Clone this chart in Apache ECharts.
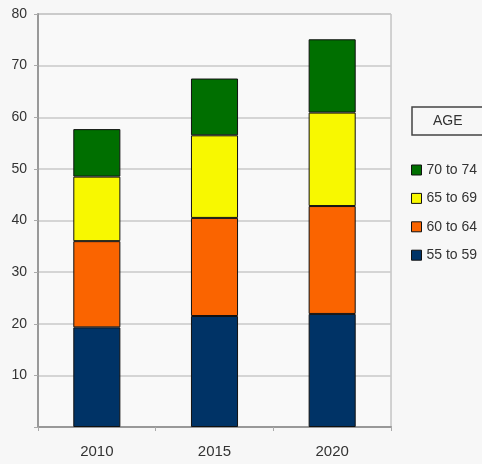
<!DOCTYPE html>
<html>
<head>
<meta charset="utf-8">
<script src="https://cdn.jsdelivr.net/npm/echarts@6/dist/echarts.min.js"></script>
<style>
html,body{margin:0;padding:0;background:#f7f7f7;}
#chart{width:482px;height:464px;}
</style>
</head>
<body>
<div id="chart"></div>
<script>
var categories = ['2010', '2015', '2020'];
var age55to59 = [19.3, 21.5, 21.9];
var age60to64 = [16.7, 19.0, 20.9];
var age65to69 = [12.5, 16.0, 18.1];
var age70to74 = [9.2, 11.0, 14.2];
var yTicks = [0, 10, 20, 30, 40, 50, 60, 70, 80];

var chart = echarts.init(document.getElementById('chart'), null, {renderer: 'canvas'});
var font = 'Liberation Sans, Arial, sans-serif';
function mk(name, data, color) {
  return {
    name: name, type: 'bar', stack: 'age', data: data, barWidth: '40%',
    itemStyle: {color: color, borderColor: '#111', borderWidth: 1},
    emphasis: {disabled: true}
  };
}
chart.setOption({
  backgroundColor: '#f7f7f7',
  animation: false,
  title: {
    text: 'AGE', left: 412, top: 107,
    padding: [7, 26, 7, 21],
    borderColor: '#444', borderWidth: 1.5,
    textStyle: {fontFamily: font, fontSize: 14, fontWeight: 'normal', color: '#333'}
  },
  legend: {
    orient: 'vertical', left: 411, top: 163, padding: 0,
    icon: 'rect',
    itemWidth: 10, itemHeight: 10, itemGap: 14.4,
    data: ['70 to 74', '65 to 69', '60 to 64', '55 to 59'],
    itemStyle: {borderColor: '#111', borderWidth: 1},
    textStyle: {fontFamily: font, fontSize: 14, color: '#333'}
  },
  grid: {left: 38, right: 91, top: 14, bottom: 37, show: true, borderColor: '#aaa', borderWidth: 1, backgroundColor: '#f9f9f9'},
  xAxis: {
    type: 'category', data: categories,
    axisLine: {lineStyle: {color: '#999', width: 2}},
    axisTick: {show: true, length: 4, lineStyle: {color: '#aaa'}},
    axisLabel: {fontFamily: font, fontSize: 15, color: '#333', margin: 17}
  },
  yAxis: {
    type: 'value', min: yTicks[0], max: yTicks[yTicks.length - 1], interval: 10,
    axisLine: {show: true, lineStyle: {color: '#999', width: 2}},
    axisTick: {show: true, length: 4, lineStyle: {color: '#aaa'}},
    splitLine: {lineStyle: {color: '#c8c8c8', width: 1.5}},
    axisLabel: {fontFamily: font, fontSize: 14, color: '#333', margin: 11,
      formatter: function (v) { return v === 0 ? '' : String(v); }}
  },
  series: [
    mk('55 to 59', age55to59, '#003366'),
    mk('60 to 64', age60to64, '#fa6400'),
    mk('65 to 69', age65to69, '#f8f800'),
    mk('70 to 74', age70to74, '#006f00')
  ]
});
</script>
</body>
</html>
